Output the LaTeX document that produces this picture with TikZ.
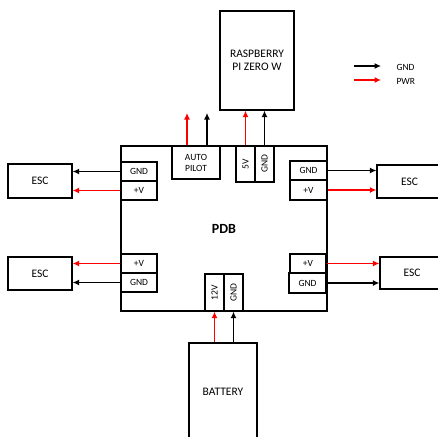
\documentclass[tikz,border=0pt]{standalone}
\usepackage{fontspec}
\setmainfont{Carlito}
\usetikzlibrary{arrows.meta}

\definecolor{pwrcol}{RGB}{255, 0, 0}
\definecolor{gndcol}{RGB}{0, 0, 0}

\tikzset{
  box/.style={draw, line width=1.3pt, inner sep=0pt, align=center,
    font=\fontsize{11.5}{13.5}\selectfont},
  port/.style={box, font=\fontsize{9.5}{11}\selectfont},
  wire/.style={line width=1.1pt, -{Latex[length=6.5pt,width=6pt]}},
  pwr/.style={wire, draw=pwrcol, -{Latex[length=6.5pt,width=6pt,color=pwrcol]}},
  gnd/.style={wire, draw=gndcol}
}

\begin{document}
\begin{tikzpicture}[x=1pt, y=-1pt]
    \useasboundingbox (0,0) rectangle (438,436);

    % Power distribution board
    \node[box, minimum width=206, minimum height=165, font=\fontsize{14}{16}\selectfont\bfseries]
      (pdb) at (224,228.5) {PDB};

    % Raspberry Pi and autopilot on top
    \node[box, minimum width=74, minimum height=99] (pi) at (257,60.5) {RASPBERRY\\PI ZERO W};
    \node[port, minimum width=48, minimum height=33] (ap) at (196,162.5) {AUTO\\PILOT};
    \node[port, minimum width=19, minimum height=36] (v5) at (245.5,164) {\rotatebox{90}{5V}};
    \node[port, minimum width=19, minimum height=36] (pgnd) at (264.5,164) {\rotatebox{90}{GND}};

    % Left ports and ESCs
    \node[port, minimum width=36, minimum height=19] (gndL1) at (139,171.5) {GND};
    \node[port, minimum width=36, minimum height=19] (vL1) at (139,190.5) {+V};
    \node[port, minimum width=36, minimum height=19] (vL2) at (139,263.5) {+V};
    \node[port, minimum width=36, minimum height=19] (gndL2) at (139,282.5) {GND};
    \node[box, minimum width=64, minimum height=34] (escL1) at (40,181) {ESC};
    \node[box, minimum width=64, minimum height=33] (escL2) at (40,273.5) {ESC};

    % Right ports and ESCs
    \node[port, minimum width=37, minimum height=19] (gndR1) at (308.5,170.5) {GND};
    \node[port, minimum width=37, minimum height=20] (vR1) at (308.5,190) {+V};
    \node[port, minimum width=36, minimum height=19] (vR2) at (308,263.5) {+V};
    \node[port, minimum width=37, minimum height=20] (gndR2) at (307.5,283) {GND};
    \node[box, minimum width=65, minimum height=33] (escR1) at (409.5,181.5) {ESC};
    \node[box, minimum width=64, minimum height=32] (escR2) at (412,273) {ESC};

    % Battery at the bottom
    \node[port, minimum width=19, minimum height=37] (v12) at (214.5,292.5) {\rotatebox{90}{12V}};
    \node[port, minimum width=19, minimum height=37] (bgnd) at (233.5,292.5) {\rotatebox{90}{GND}};
    \node[box, minimum width=68, minimum height=97] (bat) at (223,391.5) {BATTERY};

    % Wiring
    \coordinate (apP) at (187,113);
    \coordinate (apG) at (207,113);
    \draw[pwr] (apP |- ap.north) -- (apP);
    \draw[gnd] (apG |- ap.north) -- (apG);
    \draw[pwr] (v5.north) -- (v5.north |- pi.south);
    \draw[gnd] (pgnd.north) -- (pgnd.north |- pi.south);
    \draw[gnd] (gndL1.west) -- (escL1.east |- gndL1.west);
    \draw[pwr] (vL1.west) -- (escL1.east |- vL1.west);
    \draw[pwr] (vL2.west) -- (escL2.east |- vL2.west);
    \draw[gnd] (gndL2.west) -- (escL2.east |- gndL2.west);
    \draw[gnd] (gndR1.east) -- (escR1.west |- gndR1.east);
    \draw[pwr] (vR1.east) -- (escR1.west |- vR1.east);
    \draw[pwr] (vR2.east) -- (escR2.west |- vR2.east);
    \draw[gnd] (pdb.east |- gndR2.east) -- (escR2.west |- gndR2.east);
    \draw[pwr] (bat.north -| v12.south) -- (v12.south);
    \draw[gnd] (bat.north -| bgnd.south) -- (bgnd.south);

    % Legend
    \coordinate (lgA) at (354,66);
    \coordinate (lgB) at (381,66);
    \coordinate (lpA) at (354,80);
    \coordinate (lpB) at (381,80);
    \draw[gnd] (lgA) -- (lgB);
    \draw[pwr] (lpA) -- (lpB);
    \node[anchor=west, font=\fontsize{9.5}{11}\selectfont] (lgnd) at (393,67) {GND};
    \node[anchor=west, font=\fontsize{9.5}{11}\selectfont] (lpwr) at (393,81) {PWR};
\end{tikzpicture}
\end{document}
